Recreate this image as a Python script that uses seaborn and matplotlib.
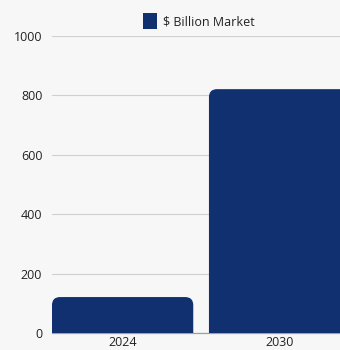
import matplotlib
matplotlib.use("Agg")
import matplotlib.pyplot as plt
import seaborn as sns
import pandas as pd
from matplotlib.patches import FancyBboxPatch, Patch

years = ["2024", "2030"]
market = [121, 821]
series_name = "$ Billion Market"
yticks = [0, 200, 400, 600, 800, 1000]

BAR = "#10306f"
BG = "#f7f7f7"

sns.set_theme(style="white")
plt.rcParams["font.family"] = ["Open Sans", "DejaVu Sans"]

df = pd.DataFrame({"year": years, "value": market})

fig = plt.figure(figsize=(3.4, 3.5), dpi=100, facecolor=BG)
ax = fig.add_axes([52/340, 1 - 333/350, (340 - 52)/340, (333 - 36)/350])
ax.set_facecolor(BG)

sns.barplot(data=df, x="year", y="value", color=BAR, width=0.9, ax=ax,
            saturation=1, zorder=3)

# replace with rounded-top bars
px_per_x = (340 - 52) / (1.385 + 0.45)
px_per_y = (333 - 36) / 1000
r_px = 8
rx = r_px / px_per_x
ry = r_px / px_per_y
for p in list(ax.patches):
    x0, w, h = p.get_x(), p.get_width(), p.get_height()
    p.remove()
    fb = FancyBboxPatch((x0 + rx, -ry * 2), w - 2 * rx, h + ry * 2 - ry,
                        boxstyle=f"round,pad={rx}",
                        mutation_aspect=ry / rx,
                        facecolor=BAR, edgecolor="none", zorder=3)
    ax.add_patch(fb)

ax.set_xlim(-0.45, 1.385)
ax.set_ylim(0, 1000)
ax.set_yticks(yticks)
ax.set_yticklabels([str(t) for t in yticks])
ax.grid(axis="y", color="#cfcfcf", linewidth=0.8, zorder=0)
ax.set_axisbelow(True)
for s in ["top", "right", "left"]:
    ax.spines[s].set_visible(False)
ax.spines["bottom"].set_color("#a0a0a0")
ax.spines["bottom"].set_linewidth(0.9)
ax.tick_params(axis="both", length=0, labelsize=9, colors="#222222", pad=7)
ax.tick_params(axis="x", pad=2)
ax.set_xlabel("")
ax.set_ylabel("")

leg = ax.legend(handles=[Patch(facecolor=BAR, edgecolor="none", label=series_name)],
                loc="lower center", bbox_to_anchor=(0.51, 1.0), frameon=False,
                fontsize=9, handlelength=1.1, handleheight=1.5, handletextpad=0.5,
                borderaxespad=0.2, labelcolor="#222222")

fig.savefig("out.png", dpi=100, facecolor=BG)
